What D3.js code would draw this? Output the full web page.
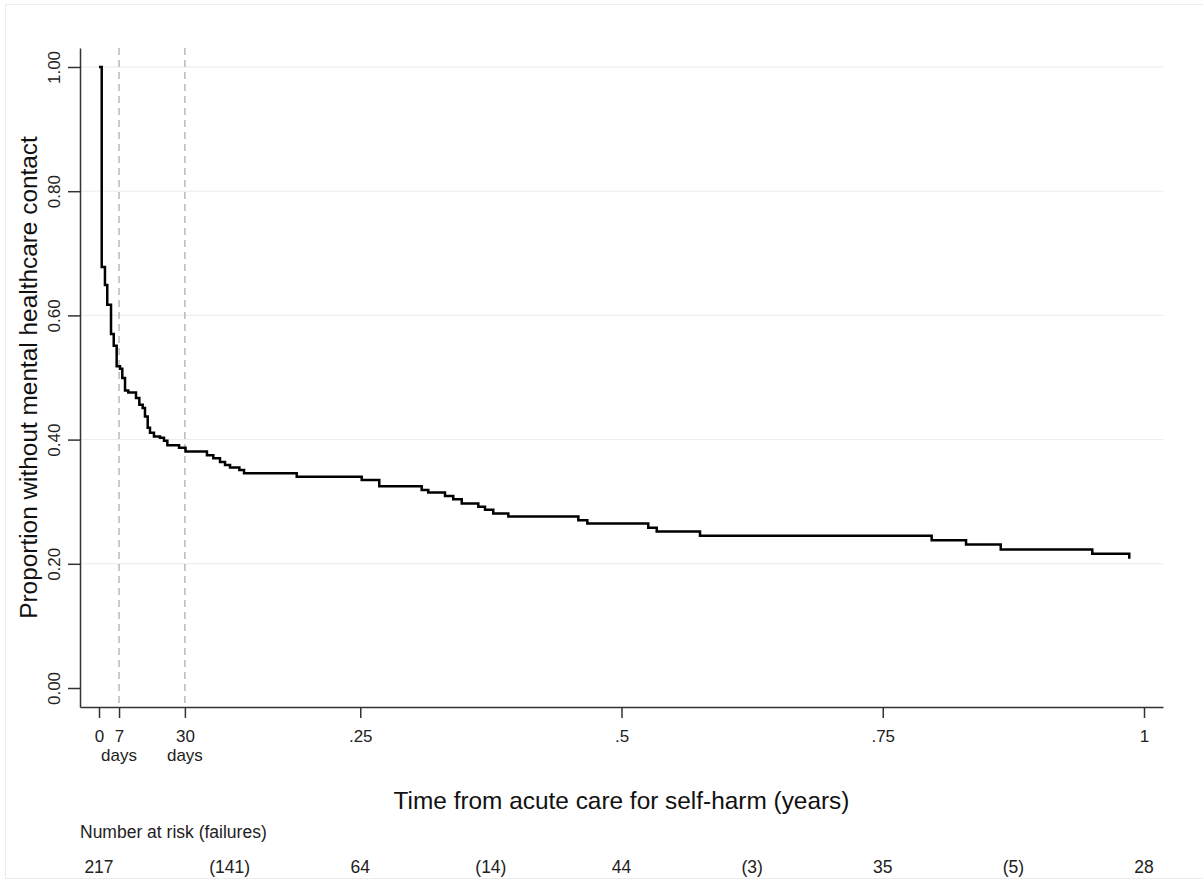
<!DOCTYPE html>
<html>
<head>
<meta charset="utf-8">
<script src="https://cdn.jsdelivr.net/npm/d3@7/dist/d3.min.js"></script>
<style>
  html, body { margin: 0; padding: 0; background: #fff; }
  svg { display: block; font-family: "Liberation Sans", Arial, sans-serif; }
</style>
</head>
<body>
<div id="chart"></div>
<script>
// step times (years) and survival proportion after each drop
const stepTimes = [0, 0.0026, 0.0057, 0.0079, 0.0115, 0.0141, 0.0169, 0.0201, 0.0223, 0.0249,
  0.0280, 0.0354, 0.0386, 0.0418, 0.0440, 0.0466, 0.0488, 0.0526, 0.0584, 0.0622,
  0.0654, 0.0766, 0.0828, 0.1033, 0.1094, 0.1158, 0.1206, 0.1254, 0.1343, 0.1388,
  0.1892, 0.2514, 0.2682, 0.3088, 0.3151, 0.3311, 0.3390, 0.3471, 0.3630, 0.3694,
  0.3773, 0.3917, 0.4587, 0.4673, 0.5256, 0.5337, 0.5751, 0.7968, 0.8297, 0.8629,
  0.9505, 0.9859];
const survival = [1.0, 0.678, 0.649, 0.617, 0.570, 0.551, 0.518, 0.514, 0.499, 0.479,
  0.476, 0.467, 0.456, 0.451, 0.437, 0.419, 0.411, 0.405, 0.403, 0.398,
  0.391, 0.387, 0.381, 0.375, 0.370, 0.364, 0.359, 0.355, 0.351, 0.346,
  0.340, 0.335, 0.325, 0.319, 0.315, 0.309, 0.304, 0.297, 0.292, 0.287,
  0.281, 0.276, 0.270, 0.265, 0.258, 0.252, 0.245, 0.238, 0.231, 0.223,
  0.216, 0.208];

const yTicks = [0, 0.2, 0.4, 0.6, 0.8, 1.0];
const xTicks = [0, 7 / 365, 30 / 365, 0.25, 0.5, 0.75, 1];
const xTickLabels = ["0", "7", "30", ".25", ".5", ".75", "1"];
const dayMarks = [7 / 365, 30 / 365];

const riskTimes = [0, 0.125, 0.25, 0.375, 0.5, 0.625, 0.75, 0.875, 1];
const riskLabels = ["217", "(141)", "64", "(14)", "44", "(3)", "35", "(5)", "28"];

const width = 1203, height = 883;
const plot = { left: 80, right: 1163, top: 48, bottom: 707 };

const x = d3.scaleLinear()
  .domain([-19 / 1045, 1064 / 1045])
  .range([plot.left, plot.right]);

const y = d3.scaleLinear()
  .domain([-19 / 621, 640 / 621])
  .range([plot.bottom, plot.top]);

const svg = d3.select("#chart").append("svg")
  .attr("width", width)
  .attr("height", height);

// faint outer frame
svg.append("rect")
  .attr("x", 5.5).attr("y", 4.5)
  .attr("width", 1205).attr("height", 874)
  .attr("fill", "none")
  .attr("stroke", "#ececec");

// horizontal grid
svg.append("g")
  .selectAll("line")
  .data(yTicks.filter(d => d > 0))
  .join("line")
    .attr("x1", plot.left).attr("x2", plot.right)
    .attr("y1", d => y(d)).attr("y2", d => y(d))
    .attr("stroke", "#ebebeb")
    .attr("stroke-width", 1);

// dashed reference lines at 7 and 30 days
svg.append("g")
  .selectAll("line")
  .data(dayMarks)
  .join("line")
    .attr("x1", d => x(d)).attr("x2", d => x(d))
    .attr("y1", plot.top).attr("y2", plot.bottom)
    .attr("stroke", "#a8a8a8")
    .attr("stroke-width", 1.2)
    .attr("stroke-dasharray", "7,5");

// KM curve
const line = d3.line()
  .x((d, i) => x(stepTimes[i]))
  .y(d => y(d))
  .curve(d3.curveStepAfter);

svg.append("path")
  .attr("d", line(survival))
  .attr("fill", "none")
  .attr("stroke", "#000")
  .attr("stroke-width", 2.5);

// y axis
const yAxis = svg.append("g")
  .attr("transform", `translate(${plot.left},0)`)
  .call(d3.axisLeft(y).tickValues(yTicks).tickFormat(d3.format(".2f")).tickSize(12).tickSizeOuter(0));
yAxis.selectAll("text")
  .attr("transform", "translate(-20,0) rotate(-90)")
  .attr("x", 0).attr("y", 0).attr("dy", 0)
  .style("text-anchor", "middle")
  .style("font-size", "17px")
  .attr("fill", "#222");

// x axis
const xAxis = svg.append("g")
  .attr("transform", `translate(0,${plot.bottom})`)
  .call(d3.axisBottom(x).tickValues(xTicks)
    .tickFormat((d, i) => xTickLabels[i]).tickSize(11).tickSizeOuter(0));
xAxis.selectAll("text")
  .attr("y", 35).attr("dy", 0)
  .style("font-size", "17px")
  .attr("fill", "#222");

[yAxis, xAxis].forEach(a => {
  a.select(".domain").attr("stroke", "#333").attr("stroke-width", 1.5);
  a.selectAll(".tick line").attr("stroke", "#333").attr("stroke-width", 1.5);
});

// "days" under 7 and 30
svg.append("g")
  .selectAll("text")
  .data(dayMarks)
  .join("text")
    .attr("x", d => x(d))
    .attr("y", 761)
    .attr("text-anchor", "middle")
    .style("font-size", "17px")
    .attr("fill", "#222")
    .text("days");

// axis titles
svg.append("text")
  .attr("transform", `translate(37,${(plot.top + plot.bottom) / 2}) rotate(-90)`)
  .attr("text-anchor", "middle")
  .style("font-size", "24.4px")
  .attr("fill", "#111")
  .text("Proportion without mental healthcare contact");

svg.append("text")
  .attr("x", (x(0) + x(1)) / 2)
  .attr("y", 809)
  .attr("text-anchor", "middle")
  .style("font-size", "24.4px")
  .attr("fill", "#111")
  .text("Time from acute care for self-harm (years)");

// number at risk table
svg.append("text")
  .attr("x", plot.left)
  .attr("y", 838)
  .style("font-size", "17.5px")
  .attr("fill", "#222")
  .text("Number at risk (failures)");

svg.append("g")
  .selectAll("text")
  .data(riskTimes)
  .join("text")
    .attr("x", d => x(d))
    .attr("y", 873)
    .attr("text-anchor", "middle")
    .style("font-size", "17.5px")
    .attr("fill", "#222")
    .text((d, i) => riskLabels[i]);
</script>
</body>
</html>
